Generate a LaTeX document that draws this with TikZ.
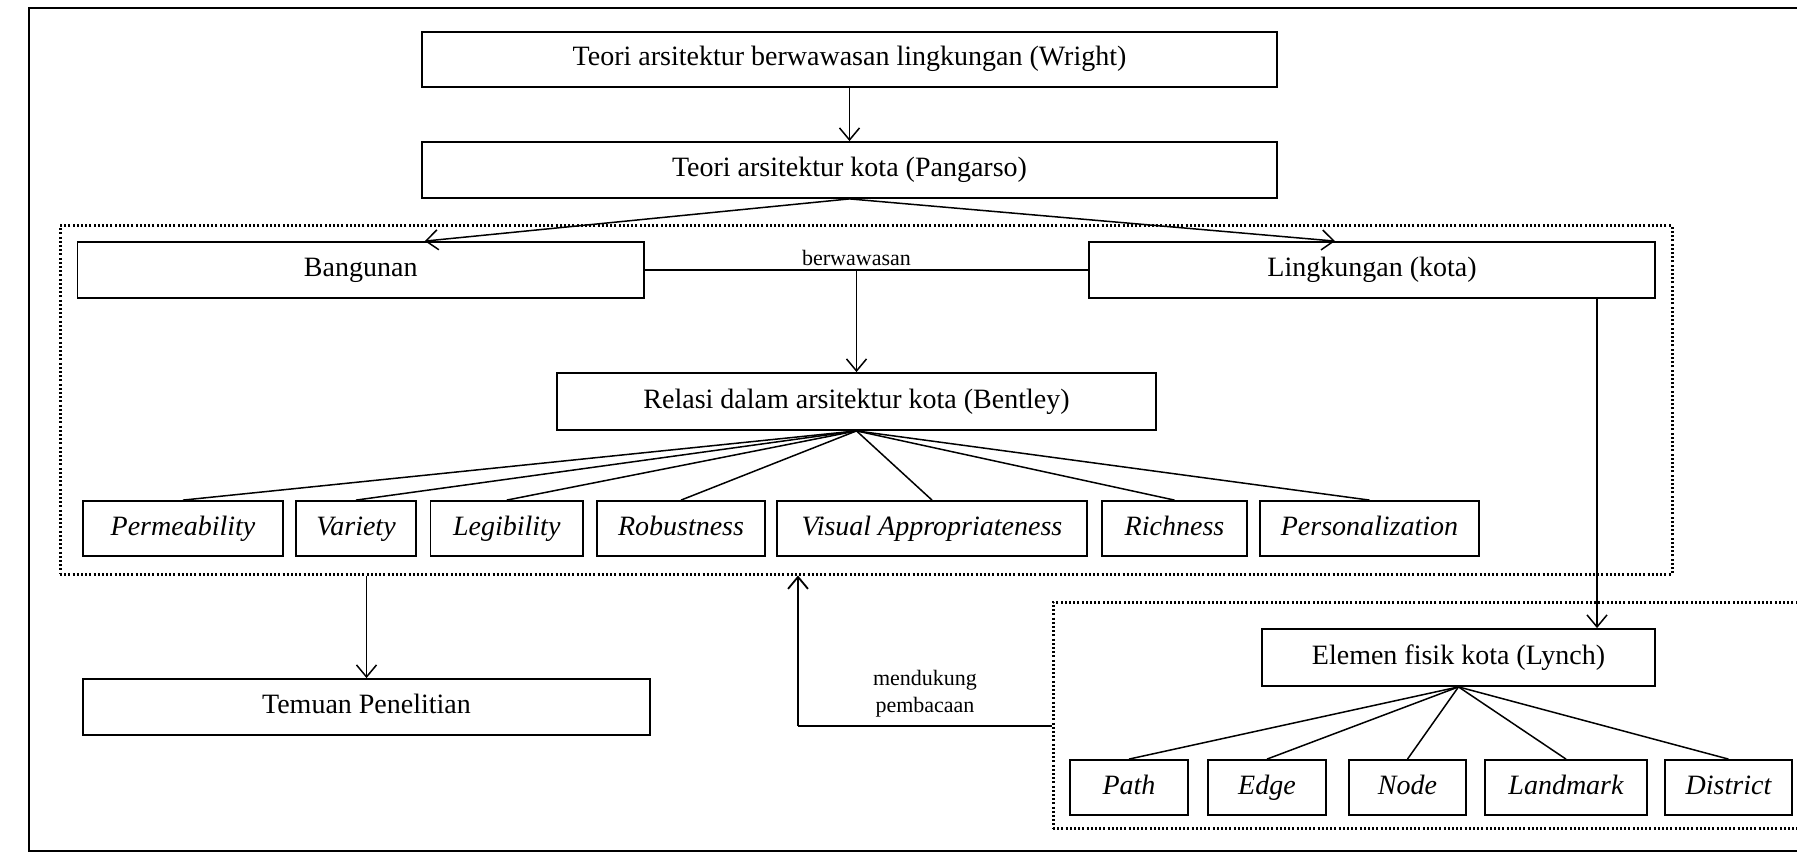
\documentclass[tikz,border=0pt]{standalone}
\usepackage{fontspec}
\setmainfont{Liberation Serif}
\usetikzlibrary{arrows.meta,calc}
\begin{document}
\begin{tikzpicture}[x=1pt,y=-1pt,
  bx/.style={draw, line width=1.8pt, inner sep=0pt, text height=19pt, text depth=6pt, font=\fontsize{28}{32}\selectfont},
  sbx/.style={draw, line width=1.8pt, inner sep=0pt, text height=19pt, text depth=6pt, font=\fontsize{28}{32}\selectfont\itshape, minimum height=55pt},
  conn/.style={line width=1.5pt},
  arr/.style={line width=1.5pt, -{Straight Barb[length=12pt,width=20pt]}},
  dotbox/.style={line width=3pt, dash pattern=on 2pt off 2.2pt},
  lbl/.style={font=\fontsize{22}{27}\selectfont, align=center, inner sep=0pt}
]
\useasboundingbox (0,0) rectangle (1797,853);
\clip (0,0) rectangle (1797,853);
\fill[white] (0,0) rectangle (1797,853);
% outer frame
\draw[line width=2.5pt] (1810,8) -- (29,8) -- (29,851) -- (1810,851);
% dotted regions
\node[dotbox, draw, minimum width=1612pt, minimum height=348pt, inner sep=0pt] (reg1) at (866,400) {};
\node[dotbox, draw, minimum width=757pt, minimum height=226pt, inner sep=0pt] (reg2) at (1431.5,715) {};
% main boxes
\node[bx, minimum width=855pt, minimum height=55pt] (wright) at (849.5,59.5) {Teori arsitektur berwawasan lingkungan (Wright)};
\node[bx, minimum width=855pt, minimum height=56pt] (pang) at (849.5,170) {Teori arsitektur kota (Pangarso)};
\node[bx, minimum width=566.5pt, minimum height=56pt] (bang) at (360.75,270) {Bangunan};
\node[bx, minimum width=566pt, minimum height=56pt] (ling) at (1372,270) {Lingkungan (kota)};
\node[bx, minimum width=599pt, minimum height=57pt] (rel) at (856.5,401.5) {Relasi dalam arsitektur kota (Bentley)};
% Bentley items
\node[sbx, minimum width=200pt] (perm) at (183,528.5) {Permeability};
\node[sbx, minimum width=120pt] (vari) at (356,528.5) {Variety};
\node[sbx, minimum width=152.5pt] (legi) at (506.75,528.5) {Legibility};
\node[sbx, minimum width=168pt] (robu) at (681,528.5) {Robustness};
\node[sbx, minimum width=310pt] (visu) at (932,528.5) {Visual Appropriateness};
\node[sbx, minimum width=145pt] (rich) at (1174.5,528.5) {Richness};
\node[sbx, minimum width=219pt] (pers) at (1369.5,528.5) {Personalization};
% Temuan
\node[bx, minimum width=567pt, minimum height=56pt] (tem) at (366.5,707) {Temuan Penelitian};
% Lynch
\node[bx, minimum width=393pt, minimum height=57pt] (elem) at (1458.5,657.5) {Elemen fisik kota (Lynch)};
\node[sbx, minimum width=118pt] (path) at (1129,787.5) {Path};
\node[sbx, minimum width=118pt] (edge) at (1267,787.5) {Edge};
\node[sbx, minimum width=117pt] (nodeb) at (1407.5,787.5) {Node};
\node[sbx, minimum width=162pt] (land) at (1566,787.5) {Landmark};
\node[sbx, minimum width=127pt] (dist) at (1728.5,787.5) {District};
% connectors
\draw[arr] (wright.south) -- (pang.north);
\draw[arr] (pang.south) -- ([xshift=64pt]bang.north);
\draw[arr] (pang.south) -- ([xshift=-37pt]ling.north);
\draw[conn] (bang.east) -- (ling.west);
\coordinate (bj) at (rel.north |- bang.east);
\draw[arr] (bj) -- (rel.north);
\node[lbl, anchor=south] (berw) at ([yshift=4pt]bj) {berwawasan};
\foreach \t in {perm,vari,legi,robu,visu,rich,pers}
  \draw[conn] (rel.south) -- (\t.north);
\foreach \t in {path,edge,nodeb,land,dist}
  \draw[conn] (elem.south) -- (\t.north);
\draw[arr] (tem.north |- reg1.south) -- (tem.north);
\coordinate (lx) at (1597,0);
\draw[arr] (ling.south -| lx) -- (elem.north -| lx);
\coordinate (mc) at (798,726);
\draw[conn, line width=1.8pt] (reg2.west |- mc) -- (mc);
\draw[arr, line width=1.8pt] (mc) -- (mc |- reg1.south);
\node[lbl] (mend) at (925,694) {mendukung\\pembacaan};
\end{tikzpicture}
\end{document}
